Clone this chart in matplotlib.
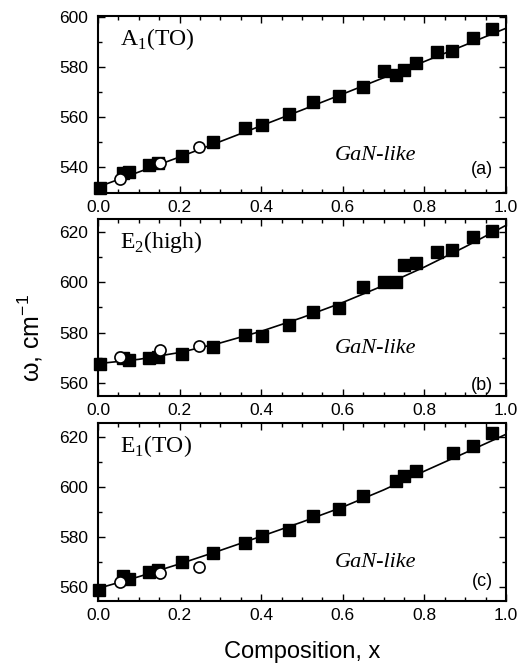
import numpy as np
import matplotlib.pyplot as plt
from matplotlib.ticker import MultipleLocator

# composition x and phonon frequency (cm^-1)
# (a) A1(TO)
a_sq_x = [0.004, 0.062, 0.077, 0.126, 0.148, 0.205, 0.281, 0.36, 0.401, 0.469,
          0.528, 0.591, 0.649, 0.70, 0.73, 0.751, 0.779, 0.83, 0.868, 0.918, 0.965]
a_sq_y = [531.7, 537.5, 538.1, 540.8, 541.5, 544.5, 550.1, 555.7, 556.8, 561.1,
          565.9, 568.4, 572.1, 578.4, 576.8, 578.8, 581.7, 586.1, 586.5, 591.7, 595.1]
a_ci_x = [0.054, 0.152, 0.247]
a_ci_y = [535.1, 541.5, 547.9]

# (b) E2(high)
b_sq_x = [0.004, 0.062, 0.077, 0.126, 0.148, 0.205, 0.281, 0.36, 0.401, 0.469,
          0.528, 0.591, 0.65, 0.70, 0.73, 0.751, 0.779, 0.83, 0.868, 0.918, 0.965]
b_sq_y = [567.7, 570.0, 569.4, 570.1, 570.3, 571.7, 574.3, 579.2, 578.7, 582.9,
          588.2, 589.8, 598.1, 600.1, 600.1, 606.8, 607.7, 612.1, 612.7, 618.0, 620.3]
b_ci_x = [0.054, 0.152, 0.247]
b_ci_y = [570.3, 573.0, 574.7]

# (c) E1(TO)
c_sq_x = [0.003, 0.062, 0.077, 0.126, 0.148, 0.205, 0.281, 0.36, 0.401, 0.469,
          0.528, 0.59, 0.65, 0.73, 0.751, 0.779, 0.869, 0.918, 0.965]
c_sq_y = [558.7, 564.3, 563.2, 565.9, 566.9, 569.9, 573.6, 577.6, 580.3, 582.7,
          588.3, 591.3, 596.3, 602.3, 604.3, 606.5, 613.6, 616.3, 621.6]
c_ci_x = [0.054, 0.152, 0.247]
c_ci_y = [561.9, 565.6, 568.0]

# fitted curves
fit_x = [0.0, 0.1, 0.2, 0.3, 0.4, 0.5, 0.6, 0.7, 0.8, 0.9, 1.0]
fit_a = [532.0, 538.0, 544.0, 550.2, 556.5, 562.8, 569.2, 575.7, 582.2, 588.8, 595.5]
fit_b = [567.8, 569.5, 572.2, 576.0, 580.6, 586.0, 592.0, 598.7, 606.0, 614.0, 622.5]
fit_c = [559.5, 564.2, 569.3, 574.7, 580.3, 586.0, 592.0, 598.8, 606.3, 613.6, 621.0]

panels = [
    ("A$_1$(TO)", "(a)", a_sq_x, a_sq_y, a_ci_x, a_ci_y, fit_a, (529.6, 600.4), 0.188, 0.085),
    ("E$_2$(high)", "(b)", b_sq_x, b_sq_y, b_ci_x, b_ci_y, fit_b, (555, 625), 0.245, 0.011),
    ("E$_1$(TO)", "(c)", c_sq_x, c_sq_y, c_ci_x, c_ci_y, fit_c, (554.5, 625.5), 0.19, 0.062),
]

plt.rcParams["font.family"] = ["Liberation Sans", "DejaVu Sans"]
plt.rcParams["mathtext.fontset"] = "custom"
plt.rcParams["mathtext.rm"] = "Liberation Serif"

fig = plt.figure(figsize=(5.18, 6.66), dpi=100)
W, H = 518, 666
boxes = [(98, 16, 408, 177), (98, 219, 408, 177), (98, 423, 408, 178)]

for (name, tag, sx, sy, cx, cy, fit, ylim, gy, ty), (l, t, w, h) in zip(panels, boxes):
    ax = fig.add_axes([l / W, 1 - (t + h) / H, w / W, h / H])
    ax.plot(fit_x, fit, color="black", lw=1.2, zorder=2)
    ax.plot(sx, sy, "s", color="black", ms=8.5, zorder=3, clip_on=False)
    ax.plot(cx, cy, "o", mfc="white", mec="black", mew=1.2, ms=8, zorder=4)
    ax.set_xlim(0, 1.0)
    ax.set_ylim(*ylim)
    ax.xaxis.set_major_locator(MultipleLocator(0.2))
    ax.xaxis.set_minor_locator(MultipleLocator(0.05))
    ax.yaxis.set_major_locator(MultipleLocator(20))
    ax.yaxis.set_minor_locator(MultipleLocator(10))
    ax.xaxis.set_major_formatter(lambda v, p: f"{v:.1f}")
    ax.tick_params(which="both", direction="in", top=True, right=True, width=1.0,
                   labelsize=12.5)
    ax.tick_params(which="major", length=5)
    ax.tick_params(which="minor", length=3)
    ax.tick_params(axis="y", which="major", pad=7)
    ax.tick_params(axis="x", which="major", pad=5)
    for s in ax.spines.values():
        s.set_linewidth(1.5)
    ax.text(0.054, 0.836, name, transform=ax.transAxes, fontsize=17,
            family="Liberation Serif")
    ax.text(0.68, gy, "GaN-like", transform=ax.transAxes, fontsize=16,
            family="Liberation Serif", style="italic", ha="center")
    ax.text(0.967, ty, tag, transform=ax.transAxes, fontsize=13, ha="right",
            va="bottom")

fig.text(30 / W, 1 - 338 / H, "ω, cm$^{\\mathregular{-1}}$", rotation=90,
         fontsize=18, ha="center", va="center")
fig.text(302 / W, 1 - 652 / H, "Composition, x", fontsize=17, ha="center",
         va="center")

fig.savefig("out.png", dpi=100)
